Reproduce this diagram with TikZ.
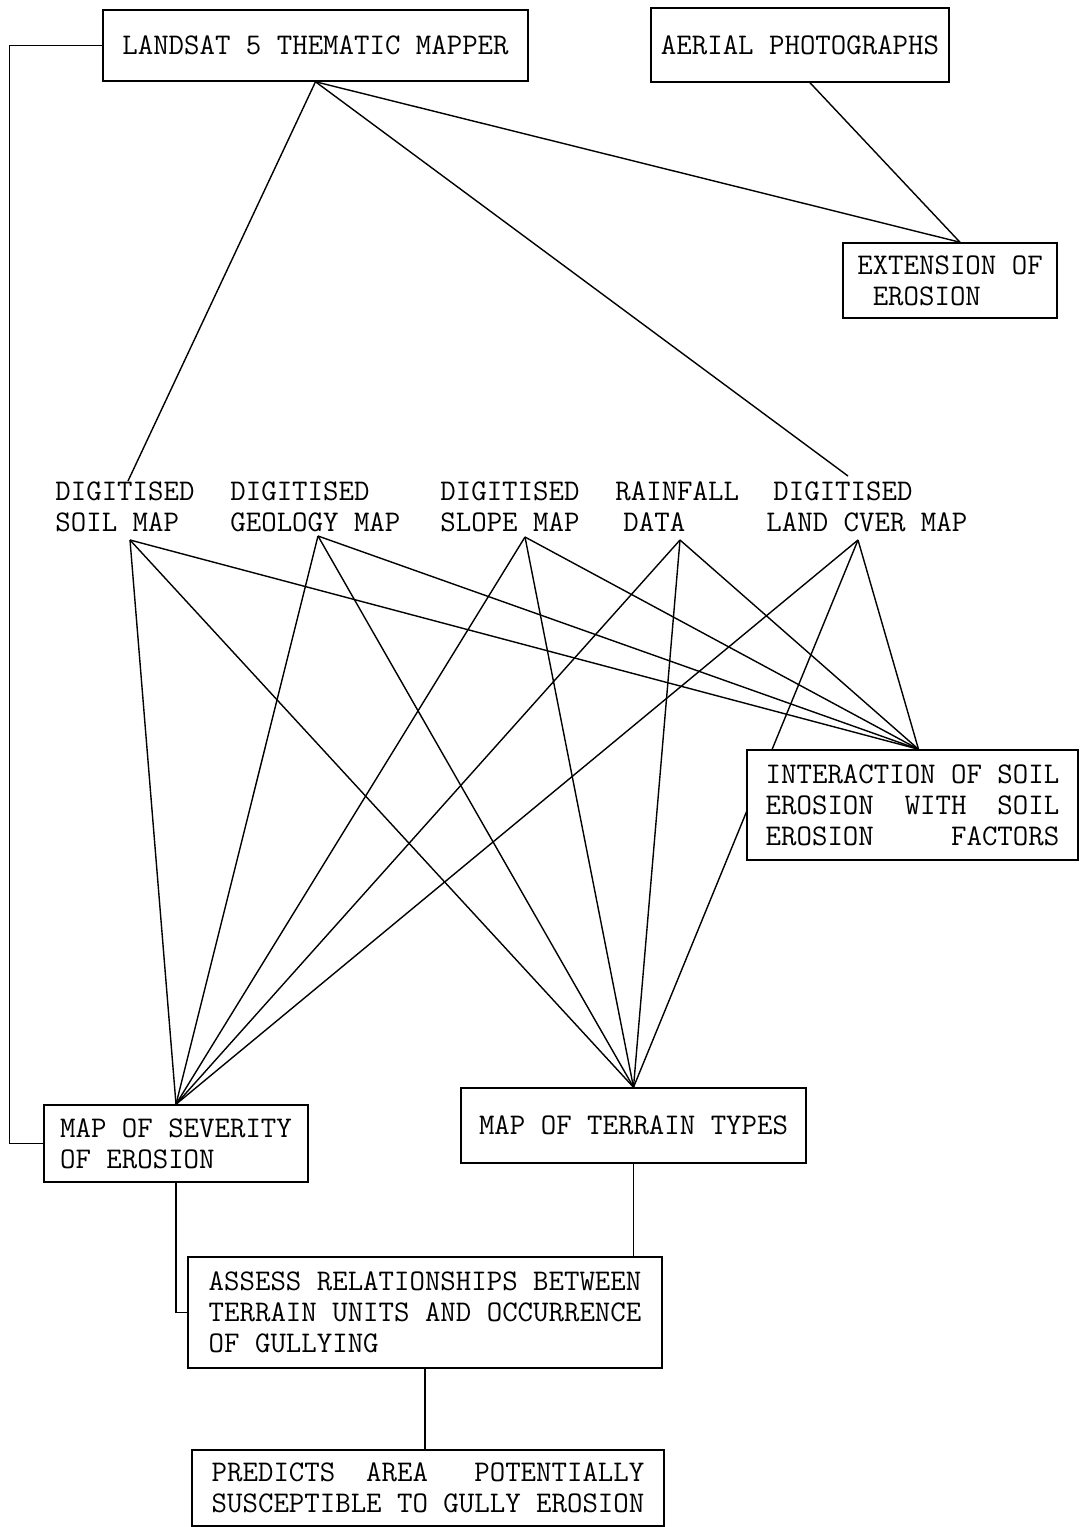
\documentclass[tikz,border=0pt]{standalone}
\usepackage{fontspec}
\usetikzlibrary{backgrounds}

\begin{document}
\begin{tikzpicture}[
        x=0.5pt, y=-0.5pt,
        stage/.style={draw, fill=white, line width=0.75pt, inner sep=0pt, align=left, font=\fontsize{15}{15.5}\selectfont\ttfamily},
        source/.style={inner sep=0pt, align=left, anchor=west, font=\fontsize{15}{15.5}\selectfont\ttfamily},
        link/.style={line width=0.7pt}
    ]
        \useasboundingbox (0,0) rectangle (1085,1527);

        % Image sources
        \node[stage, minimum width=212.5pt, minimum height=35.5pt] (land) at (315.5,45.5) {LANDSAT 5 THEMATIC MAPPER};
        \node[stage, minimum width=149pt, minimum height=37pt] (aerial) at (800,45) {AERIAL PHOTOGRAPHS};
        \node[stage, minimum width=107pt, minimum height=37.5pt] (ext) at (950,280.5) {EXTENSION OF\\~EROSION};

        % Digitised data
        \node[source] (soil) at (55,506.5) {DIGITISED\\SOIL MAP};
        \node[source] (geol) at (230,506.5) {DIGITISED\\GEOLOGY MAP};
        \node[source] (slope) at (440,506.5) {DIGITISED\\SLOPE MAP};
        \node[source] (rain) at (615,506.5) {RAINFALL\\\hspace*{4pt}DATA};
        \node[source] (cover) at (766,506.5) {\hspace*{3.5pt}DIGITISED\\LAND CVER MAP};

        \coordinate (soil-in) at (128,481);
        \coordinate (cover-in) at (848,476);
        \coordinate (soil-out) at (130,540);
        \coordinate (geol-out) at (318,536);
        \coordinate (slope-out) at (525,537);
        \coordinate (rain-out) at (680,540);
        \coordinate (cover-out) at (858,540);

        % Products
        \node[stage, minimum width=165.5pt, minimum height=55pt] (inter) at (912.5,805) {INTERACTION OF SOIL\\EROSION~~WITH~~SOIL\\EROSION~~~~~FACTORS};
        \node[stage, minimum width=132pt, minimum height=38.5pt] (sev) at (176,1143.5) {MAP OF SEVERITY\\OF EROSION};
        \node[stage, minimum width=172.5pt, minimum height=37.5pt] (terr) at (633.5,1125.5) {MAP OF TERRAIN TYPES};
        \node[stage, minimum width=237pt, minimum height=55.5pt] (assess) at (425,1312.5) {ASSESS RELATIONSHIPS BETWEEN\\TERRAIN UNITS AND OCCURRENCE\\OF GULLYING};
        \node[stage, minimum width=236pt, minimum height=38pt] (pred) at (428,1488) {PREDICTS~~AREA~~~POTENTIALLY\\SUSCEPTIBLE TO GULLY EROSION};

        \coordinate (ext-in) at ([xshift=5pt]ext.north);
        \coordinate (inter-in) at ([xshift=3pt]inter.north);

        \begin{scope}[on background layer]
            % From the images
            \draw[link] (land.south) -- (soil-in);
            \draw[link] (land.south) -- (cover-in);
            \draw[link] (land.south) -- (ext-in);
            \draw[link] ([xshift=5pt]aerial.south) -- (ext-in);

            % Every data layer feeds the three maps
            \foreach \src in {soil-out,geol-out,slope-out,rain-out,cover-out}
                \foreach \dst in {sev.north,terr.north,inter-in}
                    \draw[link] (\src) -- (\dst);

            % Frame and lower chain
            \draw[link] (land.west) -- ++(-93,0) |- (sev.west);
            \draw[link] (sev.south) |- (assess.west);
            \draw[link] (terr.south) -- (terr.south |- assess.north);
            \draw[link] (assess.south) -- (assess.south |- pred.north);
        \end{scope}
    \end{tikzpicture}
\end{document}
